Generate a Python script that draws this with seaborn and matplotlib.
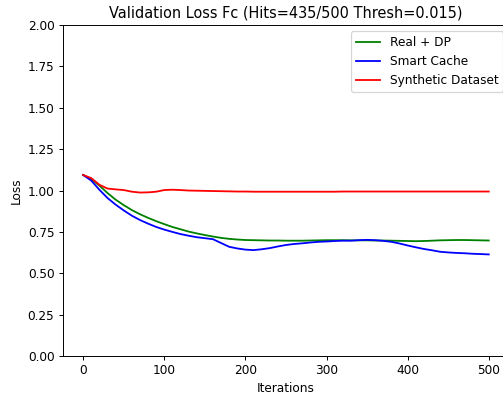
import numpy as np
import pandas as pd
import seaborn as sns
import matplotlib
matplotlib.use("Agg")
import matplotlib.pyplot as plt

# --- data (every 10 iterations) ---
iterations = list(range(0, 501, 10))

real_dp = [1.094, 1.070, 1.030, 0.985, 0.945, 0.912, 0.882, 0.857, 0.835, 0.815,
           0.797, 0.780, 0.766, 0.752, 0.741, 0.731, 0.722, 0.714, 0.708, 0.704,
           0.701, 0.700, 0.699, 0.698, 0.698, 0.697, 0.697, 0.697, 0.698, 0.699,
           0.700, 0.700, 0.700, 0.699, 0.699, 0.699, 0.698, 0.698, 0.697, 0.696,
           0.695, 0.694, 0.695, 0.697, 0.699, 0.700, 0.701, 0.701, 0.700, 0.699,
           0.698]

smart_cache = [1.094, 1.060, 1.005, 0.955, 0.915, 0.880, 0.848, 0.822, 0.800, 0.780,
               0.764, 0.750, 0.737, 0.727, 0.718, 0.712, 0.706, 0.683, 0.660, 0.650,
               0.643, 0.640, 0.645, 0.652, 0.662, 0.671, 0.677, 0.681, 0.686, 0.690,
               0.692, 0.695, 0.697, 0.697, 0.700, 0.702, 0.700, 0.696, 0.690, 0.680,
               0.668, 0.657, 0.647, 0.639, 0.630, 0.626, 0.623, 0.621, 0.618, 0.616,
               0.614]

synthetic = [1.094, 1.075, 1.035, 1.012, 1.007, 1.003, 0.993, 0.988, 0.989, 0.993,
             1.003, 1.005, 1.003, 1.000, 0.999, 0.998, 0.997, 0.996, 0.995, 0.994,
             0.994, 0.993, 0.993, 0.993, 0.993, 0.993, 0.993, 0.993, 0.993, 0.993,
             0.993, 0.993, 0.994, 0.994, 0.994, 0.994, 0.994, 0.994, 0.994, 0.994,
             0.994, 0.994, 0.994, 0.994, 0.994, 0.994, 0.994, 0.994, 0.994, 0.994,
             0.994]

series_names = ["Real + DP", "Smart Cache", "Synthetic Dataset"]
series_colors = ["green", "blue", "red"]

df = pd.DataFrame({
    "Iterations": iterations * 3,
    "Loss": real_dp + smart_cache + synthetic,
    "Series": np.repeat(series_names, len(iterations)),
})

# reference looks like a slightly downscaled render, so use a lower dpi
DPI = 87
fig = plt.figure(figsize=(503 / DPI, 398 / DPI), dpi=DPI)
# the reference is clipped on the right, so the axes run a bit past the figure
ax = fig.add_axes([0.125, 0.1055, 0.887, 0.8315])

sns.lineplot(data=df, x="Iterations", y="Loss", hue="Series",
             palette=dict(zip(series_names, series_colors)), ax=ax, linewidth=1.5)

ax.set_ylim(0, 2)
ax.set_yticks(np.arange(0, 2.01, 0.25))
ax.set_title("Validation Loss Fc (Hits=435/500 Thresh=0.015)", fontsize=12)
ax.set_xlabel("Iterations")
ax.set_ylabel("Loss")
ax.legend(loc="upper right", title=None)

fig.savefig("out.png", dpi=DPI)
